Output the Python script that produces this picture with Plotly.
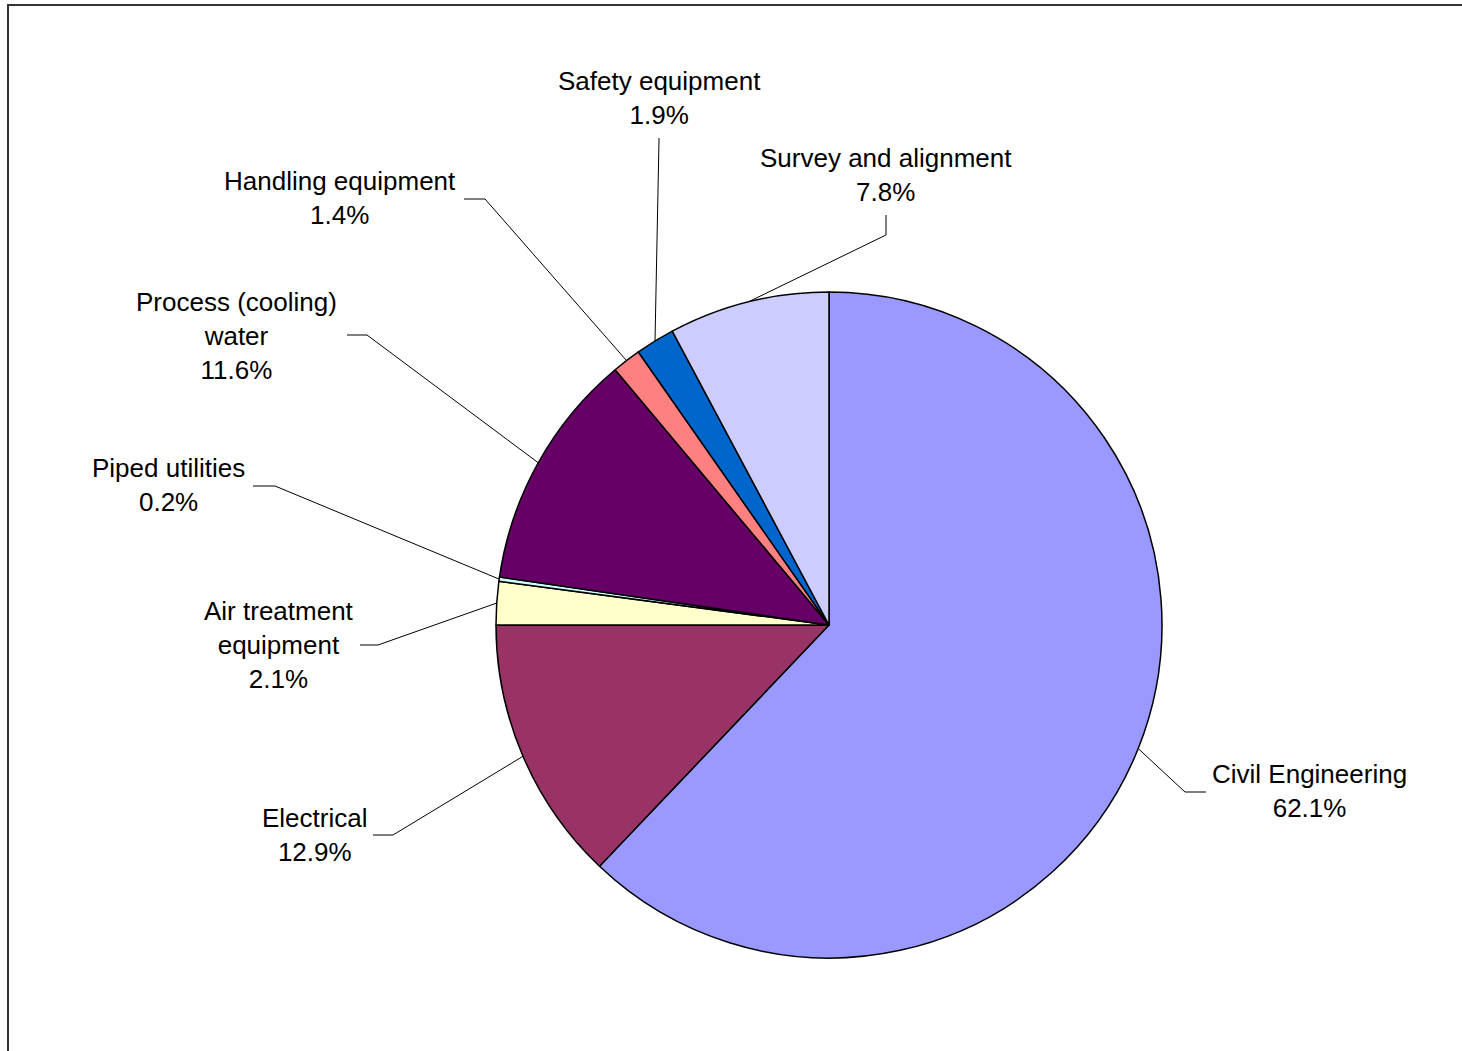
import math
import plotly.graph_objects as go

# Cost breakdown by work package (share of total, %), clockwise from 12 o'clock
categories = [
    "Civil Engineering",
    "Electrical",
    "Air treatment equipment",
    "Piped utilities",
    "Process (cooling) water",
    "Handling equipment",
    "Safety equipment",
    "Survey and alignment",
]
shares = [62.1, 12.9, 2.1, 0.2, 11.6, 1.4, 1.9, 7.8]
label_text = [
    "Civil Engineering",
    "Electrical",
    "Air treatment<br>equipment",
    "Piped utilities",
    "Process (cooling)<br>water",
    "Handling equipment",
    "Safety equipment",
    "Survey and alignment",
]
slice_colors = ["#9999FF", "#993366", "#FFFFCC", "#CCFFFF",
                "#660066", "#FF8080", "#0066CC", "#CCCCFF"]

# ---- layout (pixels) ----
W, H = 1462, 1051
CX, CY, R = 829, 625, 333

# label centre and leader-line bend / end points for each slice (pixels)
label_pos = [(1309, 791), (314, 835), (279, 645), (168, 485),
             (236, 336), (340, 198), (659, 98), (886, 175)]
bend_pts = [(1185, 792), (393, 835), (378, 645), (275, 486),
            (367, 335), (485, 199), (659, 140), (886, 235)]
end_pts = [(1206, 792), (373, 835), (360, 645), (253, 486),
           (347, 335), (464, 199), (659, 138), (886, 215)]


def px(x):
    return x / W


def py(y):
    return 1 - y / H


fig = go.Figure(go.Pie(
    labels=categories,
    values=shares,
    sort=False,
    direction="clockwise",
    rotation=0,
    marker=dict(colors=slice_colors, line=dict(color="#000000", width=1.5)),
    textinfo="none",
    hoverinfo="label+percent",
    showlegend=False,
    domain=dict(x=[px(CX - R), px(CX + R)], y=[py(CY + R), py(CY - R)]),
))

shapes = []
annotations = []
total = sum(shares)
cum = 0.0
for i, v in enumerate(shares):
    mid = (cum + v / 2) / total * 2 * math.pi  # clockwise from top
    cum += v
    sx = CX + R * math.sin(mid)
    sy = CY - R * math.cos(mid)
    bx, by = bend_pts[i]
    ex, ey = end_pts[i]
    path = f"M {px(sx)},{py(sy)} L {px(bx)},{py(by)} L {px(ex)},{py(ey)}"
    shapes.append(dict(type="path", xref="paper", yref="paper", path=path,
                       line=dict(color="#000000", width=1)))
    lx, ly = label_pos[i]
    annotations.append(dict(
        x=px(lx), y=py(ly), xref="paper", yref="paper",
        text=f"{label_text[i]}<br>{v:.1f}%",
        showarrow=False, xanchor="center", yanchor="middle", align="center",
        font=dict(family="Liberation Sans, Arial, sans-serif", size=26, color="#000000"),
    ))

# chart frame
shapes.append(dict(type="rect", xref="paper", yref="paper",
                   x0=px(8), y0=py(H + 20), x1=px(W + 20), y1=py(5),
                   line=dict(color="#333333", width=2), fillcolor="rgba(0,0,0,0)"))

fig.update_layout(
    width=W, height=H,
    margin=dict(l=0, r=0, t=0, b=0),
    paper_bgcolor="#FFFFFF",
    plot_bgcolor="#FFFFFF",
    shapes=shapes,
    annotations=annotations,
)

fig.write_html("out.html")
